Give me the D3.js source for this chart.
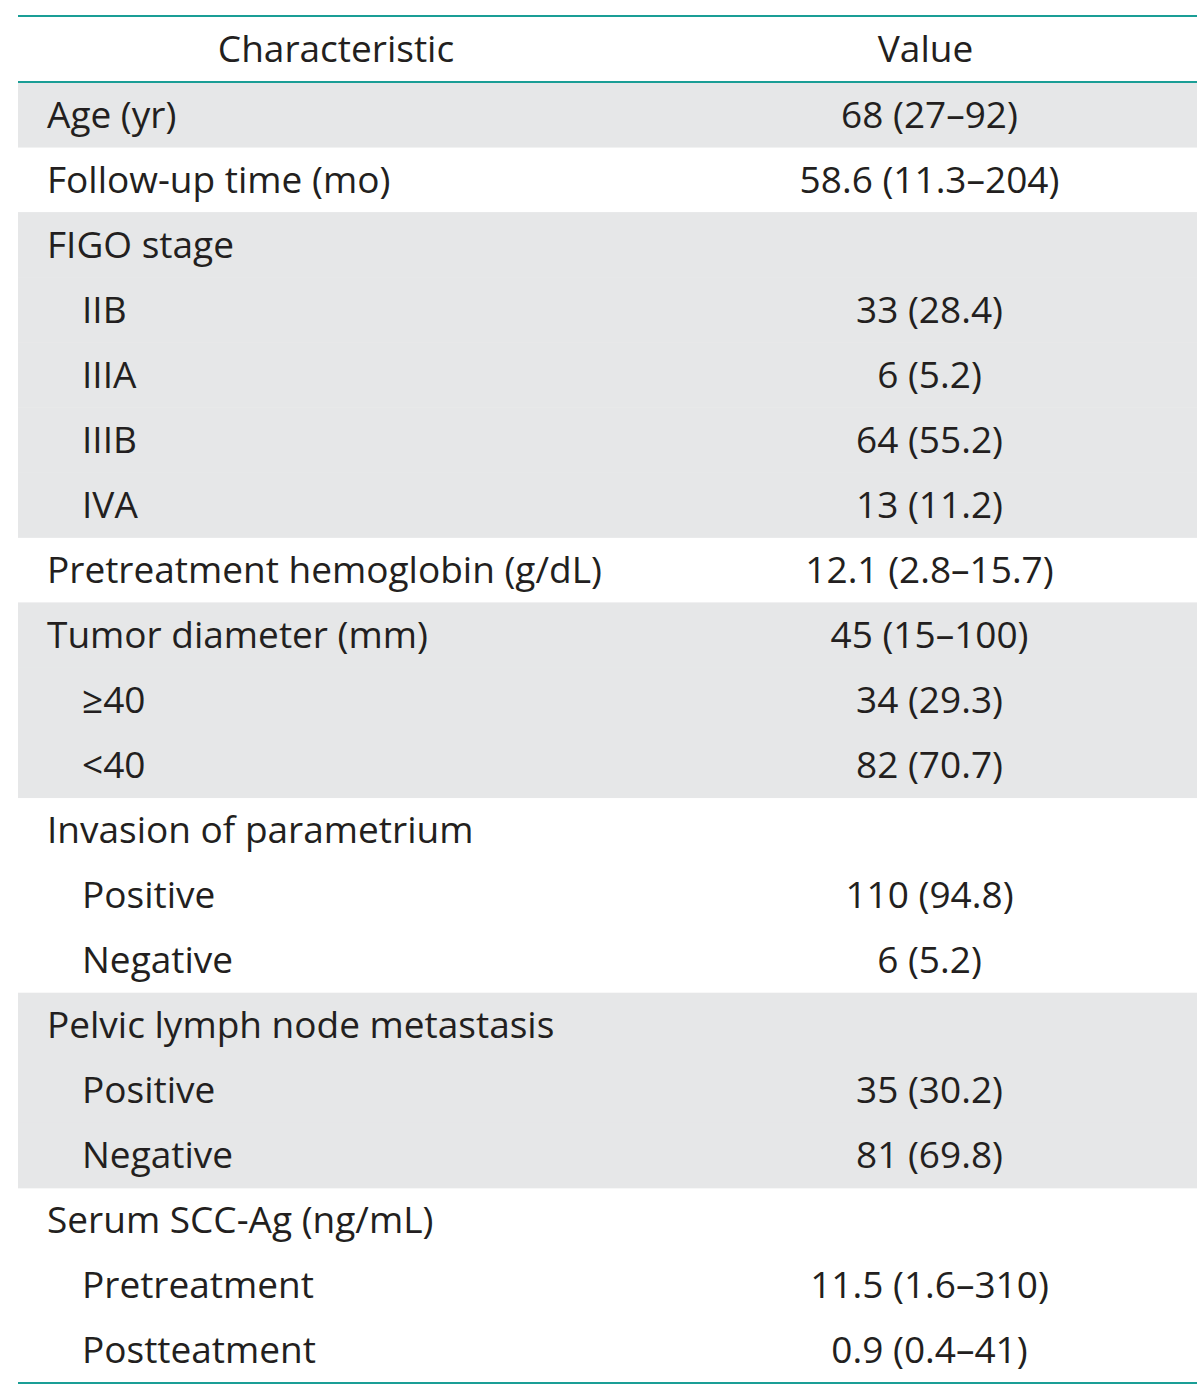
<!DOCTYPE html>
<html lang="en">
<head>
    <script src="https://d3js.org/d3.v7.min.js"></script>
    <style>
        body { margin: 0; background: #fff; }
    </style>
</head>
<body>
<script>
    // table content
    const headers = ["Characteristic", "Value"];
    const labels = [
        "Age (yr)", "Follow-up time (mo)", "FIGO stage", "IIB", "IIIA", "IIIB", "IVA",
        "Pretreatment hemoglobin (g/dL)", "Tumor diameter (mm)", "\u226540", "<40",
        "Invasion of parametrium", "Positive", "Negative",
        "Pelvic lymph node metastasis", "Positive", "Negative",
        "Serum SCC-Ag (ng/mL)", "Pretreatment", "Postteatment"
    ];
    const values = [
        "68 (27\u201392)", "58.6 (11.3\u2013204)", "", "33 (28.4)", "6 (5.2)", "64 (55.2)", "13 (11.2)",
        "12.1 (2.8\u201315.7)", "45 (15\u2013100)", "34 (29.3)", "82 (70.7)",
        "", "110 (94.8)", "6 (5.2)",
        "", "35 (30.2)", "81 (69.8)",
        "", "11.5 (1.6\u2013310)", "0.9 (0.4\u201341)"
    ];
    const indent = [0, 0, 0, 1, 1, 1, 1, 0, 0, 1, 1, 0, 1, 1, 0, 1, 1, 0, 1, 1];
    const shaded = [1, 0, 1, 1, 1, 1, 1, 0, 1, 1, 1, 0, 0, 0, 1, 1, 1, 0, 0, 0];

    const W = 1200, H = 1392;
    const left = 18, right = 1197, colSplit = 654;
    const headTop = 16, headBottom = 82, tableBottom = 1383;

    const svg = d3.select("body").append("svg")
        .attr("width", W)
        .attr("height", H);

    const rows = labels.map((d, i) => ({label: d, value: values[i], indent: indent[i], shaded: shaded[i], i: i}));

    const y = d3.scaleBand()
        .domain(d3.range(rows.length))
        .range([headBottom, tableBottom]);

    const font = "'Open Sans', sans-serif";
    const fsize = 37;
    const ink = "#231f20";
    const base = 13; // baseline offset from row centre

    // shaded bands
    svg.selectAll("rect.band")
        .data(rows.filter(d => d.shaded))
        .enter().append("rect")
        .attr("class", "band")
        .attr("x", left)
        .attr("y", d => y(d.i))
        .attr("width", right - left)
        .attr("height", y.bandwidth() + 0.5)
        .attr("fill", "#e6e7e8");

    // header text
    svg.selectAll("text.head")
        .data(headers)
        .enter().append("text")
        .attr("class", "head")
        .attr("x", (d, i) => i === 0 ? (left + colSplit) / 2 : (colSplit + right) / 2)
        .attr("y", (headTop + headBottom) / 2 + base)
        .attr("text-anchor", "middle")
        .attr("font-family", font)
        .attr("font-size", fsize)
        .attr("fill", ink)
        .text(d => d);

    // row labels
    svg.selectAll("text.label")
        .data(rows)
        .enter().append("text")
        .attr("class", "label")
        .attr("x", d => d.indent ? 82 : 47)
        .attr("y", d => y(d.i) + y.bandwidth() / 2 + base)
        .attr("font-family", font)
        .attr("font-size", fsize)
        .attr("fill", ink)
        .text(d => d.label);

    // values
    svg.selectAll("text.value")
        .data(rows)
        .enter().append("text")
        .attr("class", "value")
        .attr("x", (colSplit + right) / 2 + 4)
        .attr("y", d => y(d.i) + y.bandwidth() / 2 + base)
        .attr("text-anchor", "middle")
        .attr("font-family", font)
        .attr("font-size", fsize)
        .attr("fill", ink)
        .text(d => d.value);

    // rules
    svg.selectAll("line.rule")
        .data([headTop, headBottom, tableBottom])
        .enter().append("line")
        .attr("class", "rule")
        .attr("x1", left)
        .attr("x2", right)
        .attr("y1", d => d)
        .attr("y2", d => d)
        .attr("stroke", "#1a9e96")
        .attr("stroke-width", 2.2);
</script>
</body>
</html>
